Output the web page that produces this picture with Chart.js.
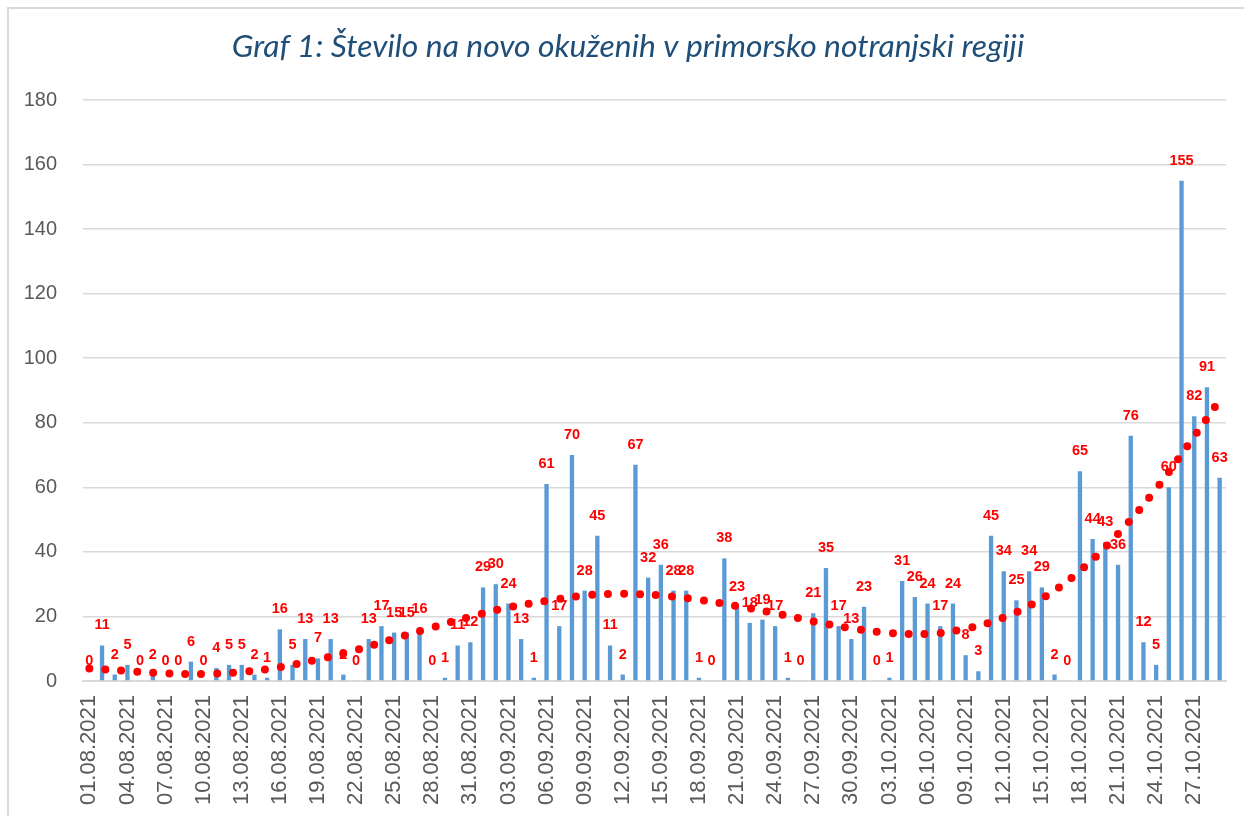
<!DOCTYPE html>
<html>
<head>
<meta charset="utf-8">
<script src="https://cdn.jsdelivr.net/npm/chart.js@4.4.1/dist/chart.umd.min.js"></script>
<style>
  html, body { margin: 0; padding: 0; background: #fff; }
</style>
</head>
<body>
<canvas id="chartCanvas" width="1244" height="816"></canvas>
<script>
// dnevi 01.08.2021 - 29.10.2021
const dates = [
  '01.08.2021','02.08.2021','03.08.2021','04.08.2021','05.08.2021','06.08.2021','07.08.2021','08.08.2021','09.08.2021','10.08.2021',
  '11.08.2021','12.08.2021','13.08.2021','14.08.2021','15.08.2021','16.08.2021','17.08.2021','18.08.2021','19.08.2021','20.08.2021',
  '21.08.2021','22.08.2021','23.08.2021','24.08.2021','25.08.2021','26.08.2021','27.08.2021','28.08.2021','29.08.2021','30.08.2021',
  '31.08.2021','01.09.2021','02.09.2021','03.09.2021','04.09.2021','05.09.2021','06.09.2021','07.09.2021','08.09.2021','09.09.2021',
  '10.09.2021','11.09.2021','12.09.2021','13.09.2021','14.09.2021','15.09.2021','16.09.2021','17.09.2021','18.09.2021','19.09.2021',
  '20.09.2021','21.09.2021','22.09.2021','23.09.2021','24.09.2021','25.09.2021','26.09.2021','27.09.2021','28.09.2021','29.09.2021',
  '30.09.2021','01.10.2021','02.10.2021','03.10.2021','04.10.2021','05.10.2021','06.10.2021','07.10.2021','08.10.2021','09.10.2021',
  '10.10.2021','11.10.2021','12.10.2021','13.10.2021','14.10.2021','15.10.2021','16.10.2021','17.10.2021','18.10.2021','19.10.2021',
  '20.10.2021','21.10.2021','22.10.2021','23.10.2021','24.10.2021','25.10.2021','26.10.2021','27.10.2021','28.10.2021','29.10.2021'
];

// novo okuženi na dan
const newCases = [
  0, 11, 2, 5, 0, 2, 0, 0, 6, 0,
  4, 5, 5, 2, 1, 16, 5, 13, 7, 13,
  2, 0, 13, 17, 15, 15, 16, 0, 1, 11,
  12, 29, 30, 24, 13, 1, 61, 17, 70, 28,
  45, 11, 2, 67, 32, 36, 28, 28, 1, 0,
  38, 23, 18, 19, 17, 1, 0, 21, 35, 17,
  13, 23, 0, 1, 31, 26, 24, 17, 24, 8,
  3, 45, 34, 25, 34, 29, 2, 0, 65, 44,
  43, 36, 76, 12, 5, 60, 155, 82, 91, 63
];

// trendna črta (odčitano s slike, vsak tretji dan)
const trendDays = [0, 3, 6, 9, 12, 15, 18, 21, 24, 27, 30, 33, 36, 39, 42, 45, 48, 51, 54, 57, 60, 63, 66, 69, 72, 75, 78, 81, 84, 87, 89];
const trendVals = [3.9, 3.1, 2.4, 2.2, 2.8, 4.3, 6.7, 9.6, 13.1, 16.6, 19.9, 22.8, 24.8, 26.5, 27.0, 26.5, 25.2, 23.2, 21.0, 18.5, 16.3, 14.9, 14.6, 16.2, 19.7, 25.5, 34.1, 45.6, 59.5, 75.8, 87.0];

const yMin = 0;
const yMax = 180;
const yStep = 20;

const chartTitle = 'Graf 1: Število na novo okuženih v primorsko notranjski regiji';

let trendData = dates.map(() => null);
trendDays.forEach((d, i) => { trendData[d] = trendVals[i]; });

// okvir, bela podlaga in naslov
const framePlugin = {
  id: 'frame',
  beforeDraw: function (chart) {
    let ctx = chart.ctx;
    ctx.save();
    ctx.fillStyle = '#ffffff';
    ctx.fillRect(0, 0, chart.width, chart.height);
    ctx.strokeStyle = '#d9d9d9';
    ctx.lineWidth = 2;
    ctx.strokeRect(8, 8, chart.width + 20, chart.height + 20);
    ctx.fillStyle = '#1f4e79';
    ctx.font = 'italic 31.8px Lato, sans-serif';
    ctx.textAlign = 'center';
    ctx.textBaseline = 'middle';
    ctx.fillText(chartTitle, 628, 47);
    ctx.restore();
  }
};

// oznake vrednosti nad stolpci
const valueLabels = {
  id: 'valueLabels',
  afterDatasetsDraw: function (chart) {
    let ctx = chart.ctx;
    let meta = chart.getDatasetMeta(1); // stolpci
    ctx.save();
    ctx.fillStyle = '#ff0000';
    ctx.font = 'bold 14.5px "Liberation Sans", Arial, sans-serif';
    ctx.textAlign = 'center';
    ctx.textBaseline = 'middle';
    meta.data.forEach((bar, i) => {
      ctx.fillText(String(newCases[i]), bar.x, bar.y - 20);
    });
    ctx.restore();
  }
};

let ctx = document.getElementById('chartCanvas').getContext('2d');

let chart = new Chart(ctx, {
  type: 'bar',
  data: {
    labels: dates,
    datasets: [
      {
        type: 'line',
        data: trendData,
        borderColor: '#ff0000',
        borderWidth: 8,
        borderDash: [0, 16],
        borderCapStyle: 'round',
        pointRadius: 0,
        tension: 0.4,
        spanGaps: true,
        fill: false,
        order: 0
      },
      {
        type: 'bar',
        data: newCases,
        backgroundColor: '#5b9bd5',
        barPercentage: 0.34,
        categoryPercentage: 1.0,
        order: 1
      }
    ]
  },
  options: {
    responsive: false,
    animation: false,
    layout: {
      padding: { left: 7, right: 18, top: 100, bottom: 0 }
    },
    plugins: {
      legend: { display: false },
      tooltip: { enabled: false },
      title: { display: false }
    },
    scales: {
      x: {
        offset: true,
        grid: { display: false, drawTicks: false },
        border: { display: true, color: '#d9d9d9', width: 2 },
        ticks: {
          autoSkip: false,
          maxRotation: 90,
          minRotation: 90,
          padding: 14,
          color: '#595959',
          font: { family: '"Liberation Sans"', size: 22 },
          callback: function (value, index) {
            return index % 3 === 0 ? dates[index] : '';
          }
        },
        afterFit: function (scale) {
          scale.height = 135;
          scale.paddingLeft = 0;
          scale.paddingRight = 0;
        }
      },
      y: {
        min: yMin,
        max: yMax,
        grid: { color: '#d9d9d9', lineWidth: 1.5, drawTicks: false },
        border: { display: false },
        ticks: {
          stepSize: yStep,
          padding: 26,
          color: '#595959',
          font: { family: '"Liberation Sans"', size: 20 }
        },
        afterFit: function (scale) {
          scale.width = 76;
          scale.paddingTop = 0;
          scale.paddingBottom = 0;
        }
      }
    }
  },
  plugins: [framePlugin, valueLabels]
});
</script>
</body>
</html>
